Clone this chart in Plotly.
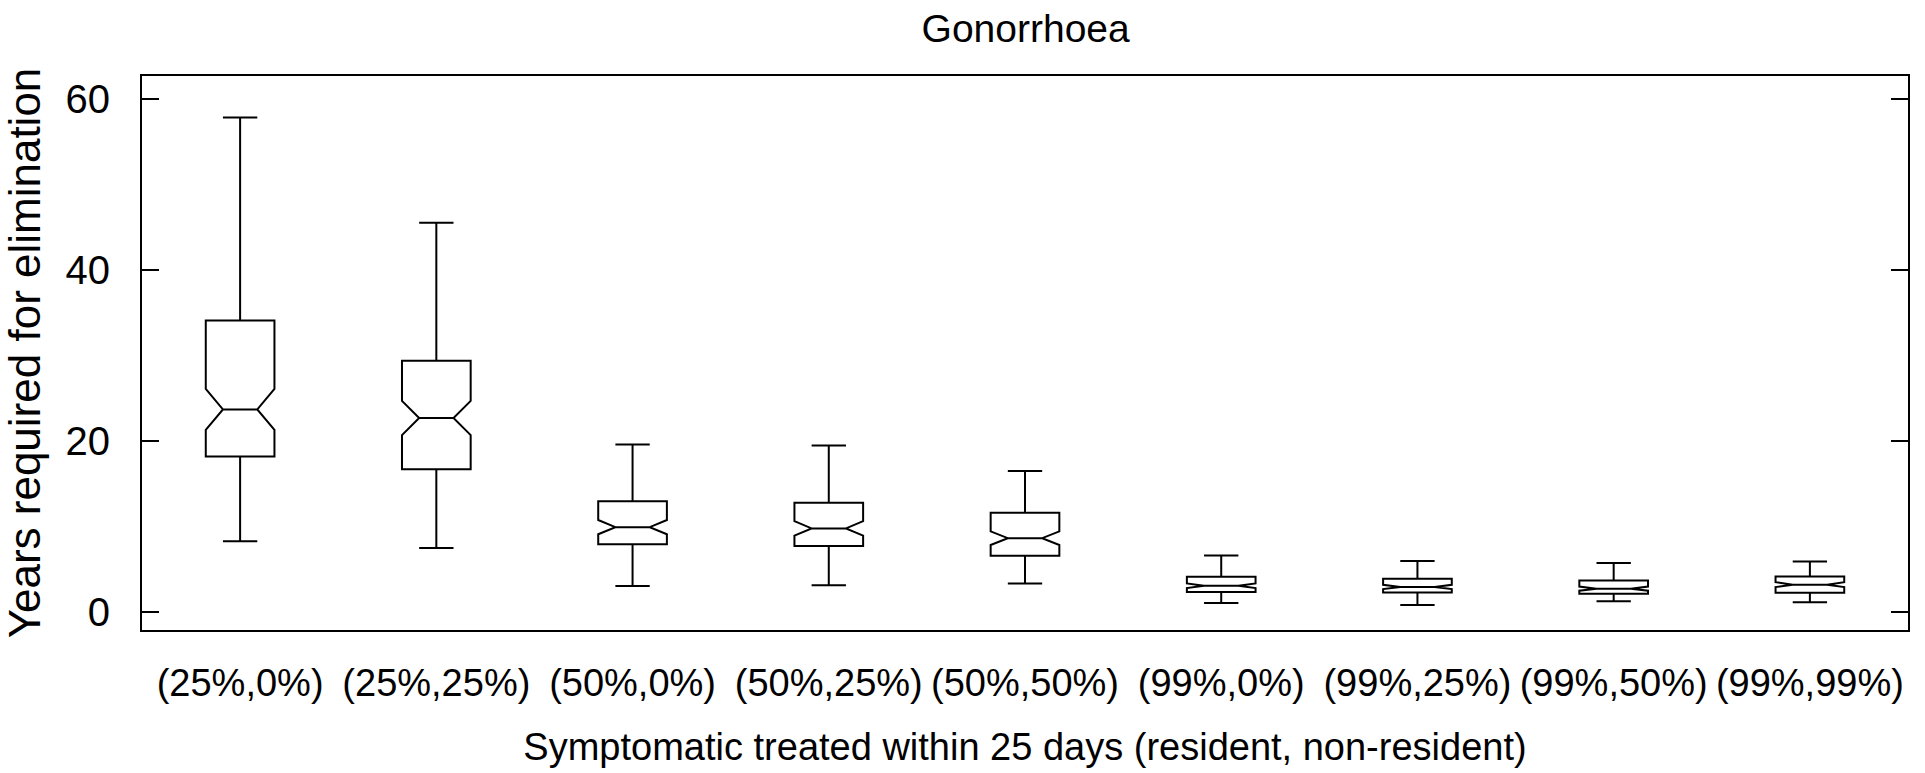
import plotly.graph_objects as go

categories = ["(25%,0%)", "(25%,25%)", "(50%,0%)", "(50%,25%)", "(50%,50%)",
              "(99%,0%)", "(99%,25%)", "(99%,50%)", "(99%,99%)"]
lower_whisker = [8.3, 7.5, 3.07, 3.15, 3.35, 1.09, 0.84, 1.28, 1.17]
q1_values = [18.2, 16.7, 7.94, 7.75, 6.62, 2.38, 2.32, 2.18, 2.28]
median_values = [23.7, 22.7, 9.95, 9.8, 8.66, 3.1, 2.96, 2.76, 3.23]
q3_values = [34.1, 29.4, 12.97, 12.8, 11.62, 4.15, 3.92, 3.7, 4.18]
upper_whisker = [57.8, 45.5, 19.6, 19.5, 16.5, 6.63, 5.98, 5.76, 5.92]
notch_half = [2.4, 2.0, 0.83, 0.85, 0.8, 0.27, 0.25, 0.24, 0.28]

title_text = "Gonorrhoea"
x_title = "Symptomatic treated within 25 days (resident, non-resident)"
y_title = "Years required for elimination"
y_ticks = [0, 20, 40, 60]

FONT = "Liberation Sans, Arial, Helvetica, sans-serif"

fig = go.Figure()
fig.add_trace(go.Box(
    x=categories,
    q1=q1_values,
    median=median_values,
    q3=q3_values,
    lowerfence=lower_whisker,
    upperfence=upper_whisker,
    notchspan=notch_half,
    notched=True,
    notchwidth=0.25,
    whiskerwidth=0.5,
    boxpoints=False,
    fillcolor="white",
    line=dict(color="black", width=2),
    hoverinfo="skip",
    showlegend=False,
))

fig.update_layout(
    width=1925,
    height=773,
    margin=dict(l=142, r=17, t=76, b=143),
    paper_bgcolor="white",
    plot_bgcolor="white",
    boxgap=0.5,
    font=dict(family=FONT, color="black", size=38),
    title=dict(text=title_text, x=0.5328, xanchor="center", y=1 - 28 / 773,
               yanchor="middle", yref="container",
               font=dict(family=FONT, size=39, color="black")),
    xaxis=dict(
        type="category",
        range=[-0.5, 8.5],
        showline=True, linecolor="black", linewidth=2, mirror=True,
        ticks="", showgrid=False, zeroline=False,
        tickfont=dict(size=38), tickangle=0, automargin=False,
        ticklabelstandoff=18,
        title=dict(text=x_title, font=dict(size=38), standoff=31),
    ),
    yaxis=dict(
        range=[-2.07, 62.66],
        tickvals=y_ticks,
        ticktext=[str(v) for v in y_ticks],
        showline=True, linecolor="black", linewidth=2, mirror="ticks",
        ticks="inside", ticklen=17, tickwidth=2, tickcolor="black",
        showgrid=False, zeroline=False, automargin=False,
        tickfont=dict(size=40),
        ticklabelstandoff=22,
        title=dict(text=y_title, font=dict(size=44), standoff=12),
    ),
)

fig.write_html("out.html")
